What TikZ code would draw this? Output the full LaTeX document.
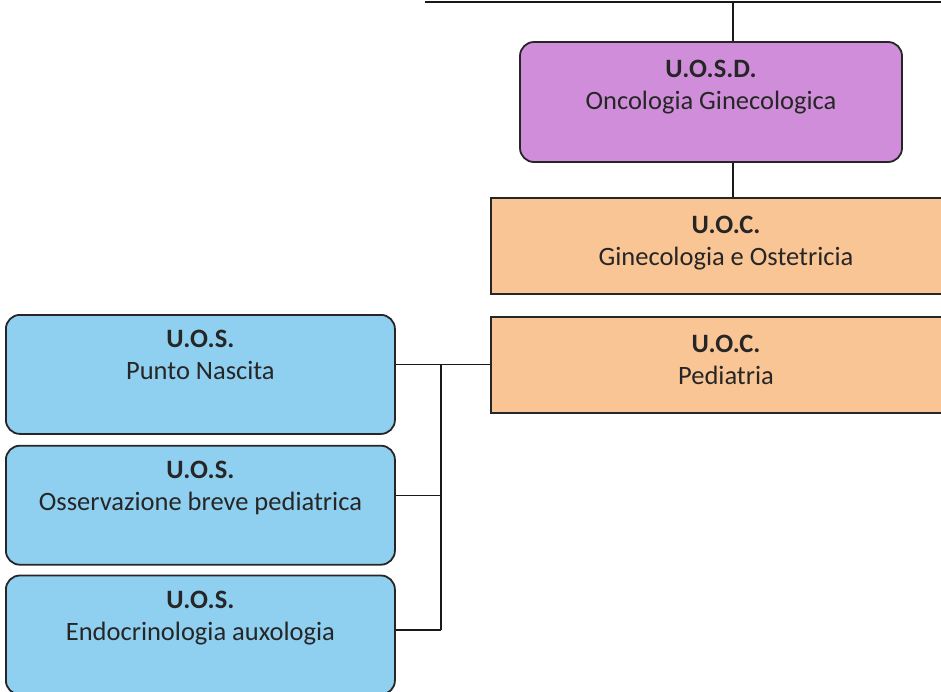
\documentclass[tikz,border=0pt]{standalone}
\usepackage{fontspec}
\setmainfont{Carlito}
\usetikzlibrary{positioning}
\definecolor{uosdfill}{RGB}{208,142,218}
\definecolor{uocfill}{RGB}{250,197,148}
\definecolor{uosfill}{RGB}{143,207,240}

\begin{document}
\begin{tikzpicture}[%
        x=1pt, y=-1pt,
        every node/.style={draw=black!85, line width=1.8pt, align=center, inner sep=0pt,
          font=\fontsize{26.5}{32}\selectfont, text=black!85},
        uosd/.style={fill=uosdfill, rounded corners=14pt, minimum width=382pt, text height=67pt, text depth=53pt},
        uoc/.style={fill=uocfill, minimum width=470pt, text height=68pt, text depth=28pt},
        uos/.style={fill=uosfill, rounded corners=14pt, minimum width=389pt, text height=65pt, text depth=54pt},
        link/.style={draw=black!90, line width=1.4pt},
        node distance=10pt
      ]
      \useasboundingbox (0,0) rectangle (941,691);
      \coordinate (t0) at (425,2);
      \coordinate (t1) at (950,2);
      \coordinate (spine) at (733,2);
      \coordinate (bus) at (441,0);
      \node (0) [uosd] at (711,102) {\textbf{U.O.S.D.}\\Oncologia Ginecologica};
      \node (1) [uoc, below right=34pt and -29pt of 0.south west] {\textbf{U.O.C.}\\Ginecologia e Ostetricia};
      \node (2) [uoc, below=21pt of 1] {\textbf{U.O.C.}\\Pediatria};
      \node (3) [uos, anchor=north west] at (5,314) {\textbf{U.O.S.}\\Punto Nascita};
      \node (4) [uos, below=of 3] {\textbf{U.O.S.}\\Osservazione breve pediatrica};
      \node (5) [uos, below=9pt of 4] {\textbf{U.O.S.}\\Endocrinologia auxologia};
      \coordinate (4e) at ([yshift=10pt]4.east);
      \coordinate (5e) at ([yshift=5pt]5.east);
      \path [link] (t0) -- (t1)
      (spine) -- (spine |- 0.north)
      (spine |- 0.south) -- (spine |- 1.north)
      (2.west) -- (2.west -| 3.east)
      (bus |- 2.west) -- (bus |- 5e)
      (4e) -- (bus |- 4e)
      (5e) -- (bus |- 5e);
    \end{tikzpicture}
\end{document}
